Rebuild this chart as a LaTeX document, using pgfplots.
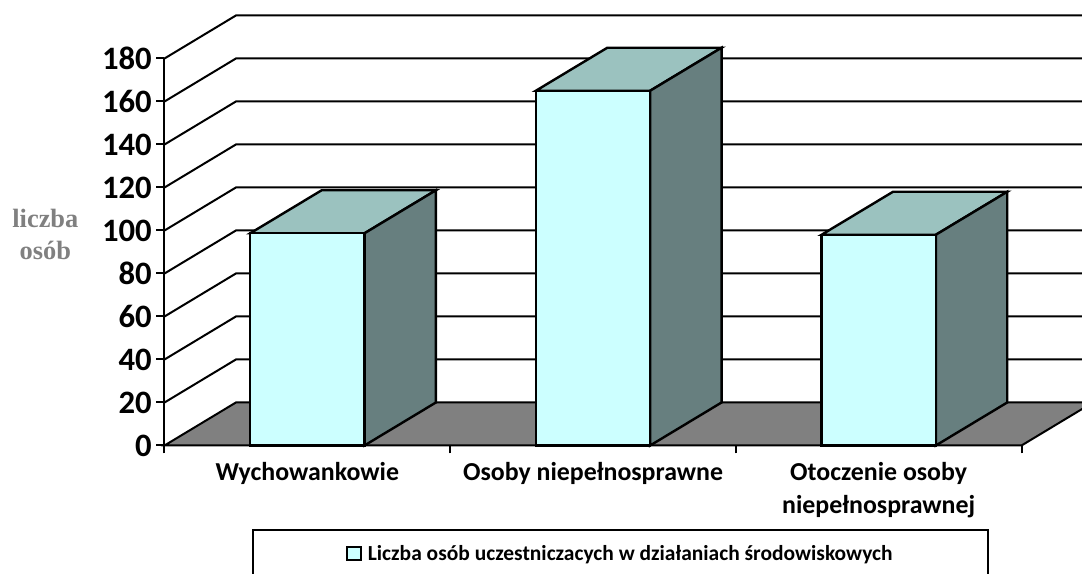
\documentclass[border=0pt]{standalone}
\usepackage{fontspec}
\setmainfont{Carlito}
\newfontfamily\timesf{Liberation Serif}
\usepackage{pgfplots}
\pgfplotsset{compat=1.18}
\definecolor{barfront}{RGB}{204,255,255}
\definecolor{bartop}{RGB}{155,194,191}
\definecolor{barside}{RGB}{103,127,127}
\definecolor{floorgray}{RGB}{128,128,128}
\pgfplotsset{
  face/.style={draw=black, line width=1.8pt, line join=miter, no markers, forget plot},
  wall/.style={draw=black, line width=1.5pt, no markers, forget plot}
}
\begin{document}
\begin{tikzpicture}[x=0.75pt,y=0.75pt]
% 1 px of the reference = 0.75pt, origin at the axis corner (164.5,445.5)
\useasboundingbox (-164.5,-128.5) rectangle (917.5,445.5);
\begin{axis}[
  at={(0,0)}, anchor=south west,
  scale only axis,
  width=642.75pt, height=290.25pt,
  xmin=0, xmax=3, ymin=0, ymax=180,
  clip=false,
  axis lines=left,
  axis line style={-, line width=1.5pt},
  tick style={black, line width=1.5pt},
  major tick length=6pt,
  tick align=outside,
  ytick={0,20,...,180},
  xtick={0,1,2,3}, xticklabels={},
  extra x ticks={0.5,1.5,2.5},
  extra x tick labels={Wychowankowie,Osoby niepełnosprawne,{Otoczenie osoby\\niepełnosprawnej}},
  extra x tick style={major tick length=0pt},
  /pgf/number format/assume math mode=true,
  y tick label style={font=\bfseries\fontsize{24.5}{26}\selectfont},
  x tick label style={font=\bfseries\fontsize{19.4}{25}\selectfont, align=center, yshift=-9pt},
  ylabel={liczba\\osób},
  ylabel style={rotate=-90, at={(axis description cs:-0.139,0.545)}, anchor=center, align=center,
    text=floorgray, font=\timesf\bfseries\fontsize{19.8}{24}\selectfont},
  legend style={at={(axis cs:0.308,-39)}, anchor=north west, draw=black, line width=1.5pt,
    minimum width=551pt, minimum height=36pt,
    nodes={minimum width=0pt, minimum height=0pt},
    font=\bfseries\fontsize{16.1}{18}\selectfont},
  legend image code/.code={\draw[black, line width=1.3pt, fill=barfront] (0pt,-4.5pt) rectangle (10.5pt,5.5pt);
    \path[draw=none, fill=none] (0pt,0pt) -- (13.5pt,0pt);},
]
% back wall grid lines
\addplot[wall] coordinates {(0,20)(0.25,40)(3.25,40)};
\addplot[wall] coordinates {(0,40)(0.25,60)(3.25,60)};
\addplot[wall] coordinates {(0,60)(0.25,80)(3.25,80)};
\addplot[wall] coordinates {(0,80)(0.25,100)(3.25,100)};
\addplot[wall] coordinates {(0,100)(0.25,120)(3.25,120)};
\addplot[wall] coordinates {(0,120)(0.25,140)(3.25,140)};
\addplot[wall] coordinates {(0,140)(0.25,160)(3.25,160)};
\addplot[wall] coordinates {(0,160)(0.25,180)(3.25,180)};
\addplot[wall] coordinates {(0,180)(0.25,200)(3.25,200)};
% floor
\addplot[wall, fill=floorgray] coordinates {(0,0)(3,0)(3.25,20)(0.25,20)} -- cycle;
% top faces
\addplot[face, fill=bartop] coordinates {(0.3,98.7)(0.7,98.7)(0.95,118.7)(0.55,118.7)} -- cycle;
\addplot[face, fill=bartop] coordinates {(1.3,165)(1.7,165)(1.95,185)(1.55,185)} -- cycle;
\addplot[face, fill=bartop] coordinates {(2.3,98)(2.7,98)(2.95,118)(2.55,118)} -- cycle;
% side faces
\addplot[face, fill=barside] coordinates {(0.7,0)(0.95,20)(0.95,118.7)(0.7,98.7)} -- cycle;
\addplot[face, fill=barside] coordinates {(1.7,0)(1.95,20)(1.95,185)(1.7,165)} -- cycle;
\addplot[face, fill=barside] coordinates {(2.7,0)(2.95,20)(2.95,118)(2.7,98)} -- cycle;
% front faces
\addplot[ybar, bar width=0.4, bar shift=0pt, draw=black, line width=1.8pt, fill=barfront]
  coordinates {(0.5,98.7)(1.5,165)(2.5,98)};
\addlegendentry{Liczba osób uczestniczacych w działaniach środowiskowych}
\end{axis}
\end{tikzpicture}
\end{document}
